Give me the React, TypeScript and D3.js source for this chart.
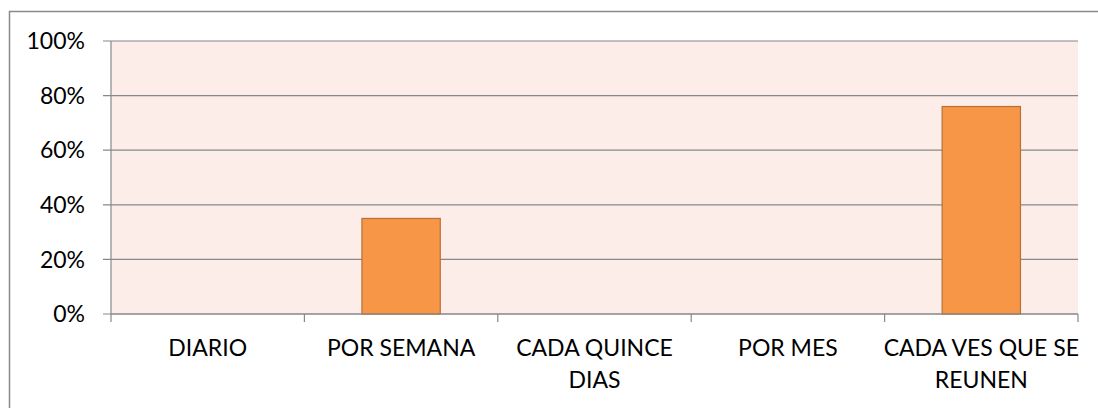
import * as d3 from "d3";

const W = 1098;
const H = 408;

const categories = ["DIARIO", "POR SEMANA", "CADA QUINCE DIAS", "POR MES", "CADA VES QUE SE REUNEN"];
const values = [0, 0.35, 0, 0, 0.76];
const yTicks = [0, 0.2, 0.4, 0.6, 0.8, 1];

const left = 111;
const right = 1078;
const top = 41;
const bottom = 314;
const font = "Lato, 'Open Sans', sans-serif";
const fontSize = 23;

const x = d3.scaleBand<string>().domain(categories).range([left, right]).paddingInner(0).paddingOuter(0);
const y = d3.scaleLinear().domain([0, 1]).range([bottom, top]);
const barW = x.bandwidth() * 0.405;

let ctx: CanvasRenderingContext2D | null = null;
function measure(s: string) {
  if (!ctx) ctx = document.createElement("canvas").getContext("2d");
  if (!ctx) return s.length * fontSize * 0.6;
  ctx.font = `${fontSize}px Lato`;
  return ctx.measureText(s).width;
}

// excel lets labels run a bit past the band before wrapping
function wrap(label: string, maxW: number) {
  const words = label.split(" ");
  const lines: string[] = [];
  let cur = "";
  words.forEach((w) => {
    const next = cur ? cur + " " + w : w;
    if (cur && measure(next) > maxW) {
      lines.push(cur);
      cur = w;
    } else cur = next;
  });
  if (cur) lines.push(cur);
  return lines;
}

export default function App() {
  return (
    <svg width={W} height={H} style={{ display: "block", position: "absolute", left: 0, top: 0 }}>
      <rect x={0} y={0} width={W} height={H} fill="#fff" />
      {/* outer chart border */}
      <path d={`M9.5,${H}V11.5H${W}`} fill="none" stroke="#898989" strokeWidth={1.5} />
      <rect x={left} y={top} width={right - left} height={bottom - top} fill="#FCEDE8" />
      {yTicks.map((t) => (
        <g key={t}>
          <line x1={left - 8} x2={right} y1={y(t)} y2={y(t)} stroke="#888" strokeWidth={1.2} />
          <text
            x={85}
            y={y(t)}
            dy="0.36em"
            textAnchor="end"
            fontFamily={font}
            fontSize={fontSize}
            fill="#000"
          >
            {d3.format(".0%")(t)}
          </text>
        </g>
      ))}
      {categories.map((c, i) => (
        <rect
          key={c}
          x={x(c)! + (x.bandwidth() - barW) / 2}
          y={y(values[i])}
          width={barW}
          height={bottom - y(values[i])}
          fill={values[i] > 0 ? "#F79646" : "none"}
          stroke={values[i] > 0 ? "#B8703A" : "none"}
          strokeWidth={1.2}
        />
      ))}
      <line x1={left} x2={left} y1={top} y2={bottom + 8} stroke="#888" strokeWidth={1.2} />
      <line x1={left} x2={right} y1={bottom} y2={bottom} stroke="#888" strokeWidth={1.2} />
      {categories.map((c) => (
        <line
          key={"t" + c}
          x1={x(c)! + x.bandwidth()}
          x2={x(c)! + x.bandwidth()}
          y1={bottom}
          y2={bottom + 8}
          stroke="#888"
          strokeWidth={1.2}
        />
      ))}
      {categories.map((c) => {
        const lines = wrap(c, x.bandwidth() + 12);
        const cx = x(c)! + x.bandwidth() / 2;
        return (
          <text key={"l" + c} textAnchor="middle" fontFamily={font} fontSize={fontSize} fill="#000">
            {lines.map((l, j) => (
              <tspan key={j} x={cx} y={356 + j * 32}>
                {l}
              </tspan>
            ))}
          </text>
        );
      })}
    </svg>
  );
}
